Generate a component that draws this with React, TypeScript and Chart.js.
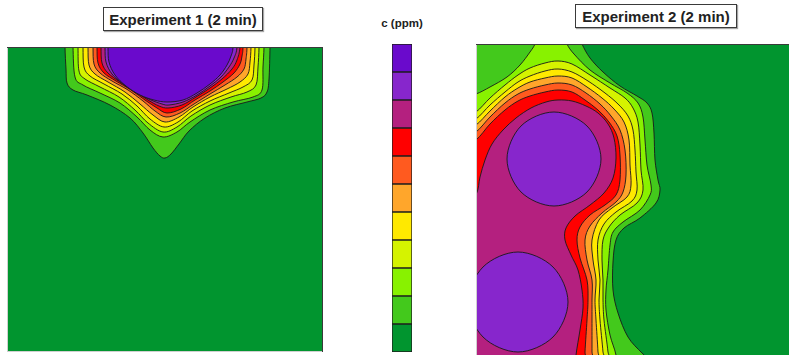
import React, { useEffect, useRef } from 'react';
import { Chart, registerables } from 'chart.js';

Chart.register(...registerables);

// ---------- Data (domain units, origin at the top-left corner of each domain) ----------
const exp1Width = 316;
const exp1Height = 305;
const exp2Width = 316;
const exp2Height = 316;

// Experiment 1 contour boundaries (level k = region where c reaches class k)
const exp1Contour1 = [[58,-25],[58,0],[59,22],[60,36],[66,43],[80,48],[103,58],[123,71],[136,86],[146,101],[153,109],[158,111],[164,107],[172,97],[182,84],[198,71],[218,61],[240,55],[254,51],[260,45],[262,32],[263,0],[263,-25]];
const exp1Contour2 = [[66,-25],[66,0],[68,30],[76,38],[93,46],[113,56],[130,70],[143,83],[156,90],[170,85],[183,75],[203,63],[226,55],[246,50],[255,43],[256,20],[257,0],[257,-25]];
const exp1Contour3 = [[71,-25],[71,0],[72,24],[78,32],[93,40],[112,50],[128,63],[141,76],[156,85],[170,80],[184,69],[203,58],[224,50],[240,45],[249,38],[251,20],[252,0],[252,-25]];
const exp1Contour4 = [[76,-25],[76,0],[77,20],[83,29],[97,37],[115,47],[130,59],[143,72],[157,80],[171,75],[185,64],[203,54],[222,46],[236,40],[245,33],[247,18],[248,0],[248,-25]];
const exp1Contour5 = [[81,-25],[81,0],[82,18],[88,27],[101,35],[118,45],[133,57],[146,68],[158,75],[172,70],[186,60],[203,50],[220,42],[233,35],[241,27],[243,15],[244,0],[244,-25]];
const exp1Contour6 = [[86,-25],[86,0],[87,17],[93,26],[105,34],[121,43],[136,54],[148,64],[159,70],[173,66],[187,57],[203,47],[218,38],[230,30],[237,22],[239,12],[240,0],[240,-25]];
const exp1Contour7 = [[90,-25],[90,0],[91,16],[97,26],[109,34],[124,43],[138,53],[150,61],[160,66],[174,62],[188,53],[203,44],[216,35],[227,26],[233,17],[235,9],[236,0],[236,-25]];
const exp1Contour8 = [[94,-25],[94,0],[95,16],[101,26],[113,35],[127,44],[141,53],[152,59],[161,61],[175,58],[189,50],[203,41],[215,32],[225,22],[230,13],[233,0],[233,-25]];
const exp1Contour9 = [[98,-25],[98,0],[99,15],[105,27],[116,37],[130,46],[144,53],[155,57],[162,58],[176,55],[190,48],[203,39],[214,30],[222,20],[227,11],[230,0],[230,-25]];
const exp1Contour10 = [[101,-25],[101,0],[102,15],[108,28],[119,39],[133,48],[147,53],[160,55],[176,53],[190,46],[203,37],[213,28],[220,18],[224,9],[226,0],[226,-25]];

// Experiment 2 contour boundaries
const exp2Contour1 = [[-15,-15],[100,-15],[106,0],[114,14],[127,28],[144,42],[161,52],[171,59],[176,69],[178,89],[179,116],[182,136],[184,146],[180,159],[164,174],[148,184],[140,196],[137,218],[137,246],[142,269],[152,293],[166,309],[179,321],[190,335],[-15,335]];
const exp2Contour2 = [[-15,54],[0,50],[14,43],[31,33],[44,21],[54,8],[59,0],[64,-14],[86,-14],[91,0],[98,10],[114,26],[134,39],[151,49],[162,59],[167,73],[169,96],[171,121],[175,141],[174,151],[164,166],[147,178],[137,188],[134,201],[132,226],[130,246],[130,266],[134,291],[140,311],[143,335],[-15,335]];
const exp2Contour3 = [[-15,75],[0,68],[14,54],[29,41],[42,31],[54,24],[69,19],[82,17],[96,20],[114,31],[134,44],[149,54],[157,64],[162,78],[164,101],[165,126],[167,146],[161,159],[144,171],[133,183],[127,196],[126,216],[127,236],[127,256],[128,276],[132,308],[134,335],[-15,335]];
const exp2Contour4 = [[-15,82],[0,75],[14,61],[29,48],[42,38],[54,32],[69,27],[82,25],[96,28],[112,37],[129,49],[142,60],[152,72],[157,86],[159,106],[160,128],[161,146],[156,157],[140,168],[128,180],[122,196],[122,216],[124,236],[123,256],[124,276],[127,308],[129,335],[-15,335]];
const exp2Contour5 = [[-15,88],[0,81],[14,67],[29,53],[42,44],[54,38],[69,34],[82,32],[96,34],[111,43],[126,54],[138,65],[148,78],[153,96],[154,121],[155,141],[151,153],[136,164],[123,176],[116,196],[117,216],[120,236],[119,256],[120,276],[122,308],[123,335],[-15,335]];
const exp2Contour6 = [[-15,95],[0,88],[14,73],[29,59],[42,50],[54,45],[69,41],[82,39],[96,41],[110,49],[124,60],[135,72],[144,86],[149,106],[150,131],[147,148],[140,158],[126,169],[114,182],[109,196],[111,216],[116,236],[116,256],[116,276],[116,308],[116,335],[-15,335]];
const exp2Contour7 = [[-15,103],[0,96],[14,80],[29,66],[42,57],[54,52],[69,48],[82,46],[96,48],[109,56],[122,66],[133,78],[141,92],[144,111],[144,136],[140,151],[129,161],[114,171],[104,183],[101,196],[104,214],[111,236],[112,256],[111,276],[109,308],[108,335],[-15,335]];
const exp2Contour8 = [[-15,175],[0,151],[4,133],[9,116],[16,100],[27,86],[40,74],[55,64],[70,58],[82,56],[96,57],[110,62],[122,69],[132,80],[138,94],[140,114],[137,134],[128,149],[114,161],[99,172],[90,184],[89,196],[95,211],[102,226],[106,246],[107,264],[104,286],[100,311],[98,335],[-15,335]];
const exp2Peak1 = [[78,68],[111,82],[125,115],[111,148],[78,162],[45,148],[31,115],[45,82]];
const exp2Peak2 = [[42,208],[77,223],[92,258],[77,293],[42,308],[7,293],[-8,258],[7,223]];

const exp1Contours = [exp1Contour1, exp1Contour2, exp1Contour3, exp1Contour4, exp1Contour5, exp1Contour6, exp1Contour7, exp1Contour8, exp1Contour9, exp1Contour10];
const exp1Levels = [1, 2, 3, 4, 5, 6, 7, 8, 9, 10];
const exp2Contours = [exp2Contour1, exp2Contour2, exp2Contour3, exp2Contour4, exp2Contour5, exp2Contour6, exp2Contour7, exp2Contour8, exp2Peak1, exp2Peak2];
const exp2Levels = [1, 2, 3, 4, 5, 6, 7, 8, 9, 9];

// Colour bar: one cell per concentration class (lowest first)
const colorbarCells = [1, 1, 1, 1, 1, 1, 1, 1, 1, 1, 1];

// ---------- Styles ----------
const levelColors = ['#01952f', '#43c91c', '#88f200', '#d5f300', '#ffe900', '#ffa62b', '#ff5a1f', '#ff0000', '#b4207f', '#8726cc', '#6a0acc'];
const lineColor = 'rgba(25,25,25,0.9)';
const FONT = '"Liberation Sans", Arial, Helvetica, sans-serif';

function traceClosed(ctx: CanvasRenderingContext2D, pts: { x: number; y: number }[]) {
  const n = pts.length;
  ctx.moveTo(pts[0].x, pts[0].y);
  for (let i = 0; i < n; i++) {
    const p0 = pts[(i - 1 + n) % n];
    const p1 = pts[i];
    const p2 = pts[(i + 1) % n];
    const p3 = pts[(i + 2) % n];
    ctx.bezierCurveTo(
      p1.x + (p2.x - p0.x) / 6, p1.y + (p2.y - p0.y) / 6,
      p2.x - (p3.x - p1.x) / 6, p2.y - (p3.y - p1.y) / 6,
      p2.x, p2.y
    );
  }
  ctx.closePath();
}

const contourPlugin = {
  id: 'contourFill',
  beforeDatasetsDraw(chart: any, _args: any, opts: any) {
    const { ctx, chartArea: a } = chart;
    ctx.save();
    ctx.beginPath();
    ctx.rect(a.left, a.top, a.right - a.left, a.bottom - a.top);
    ctx.clip();
    ctx.fillStyle = opts.background;
    ctx.fillRect(a.left, a.top, a.right - a.left, a.bottom - a.top);
    chart.data.datasets.forEach((ds: any, i: number) => {
      const meta = chart.getDatasetMeta(i);
      const pts = meta.data.map((p: any) => ({ x: p.x, y: p.y }));
      if (pts.length < 3) return;
      ctx.beginPath();
      traceClosed(ctx, pts);
      ctx.fillStyle = ds.backgroundColor;
      ctx.fill();
      ctx.lineWidth = ds.borderWidth;
      ctx.strokeStyle = ds.borderColor;
      ctx.lineJoin = 'round';
      ctx.stroke();
    });
    ctx.restore();
  },
  afterDatasetsDraw(chart: any) {
    const { ctx, chartArea: a } = chart;
    ctx.save();
    ctx.lineWidth = 1;
    ctx.strokeStyle = '#d0d0d0';
    ctx.beginPath();
    ctx.moveTo(a.left + 0.5, a.top);
    ctx.lineTo(a.left + 0.5, a.bottom);
    ctx.moveTo(a.left, a.bottom - 0.5);
    ctx.lineTo(a.right, a.bottom - 0.5);
    ctx.stroke();
    ctx.strokeStyle = '#3a3a3a';
    ctx.beginPath();
    ctx.moveTo(a.left, a.top + 0.5);
    ctx.lineTo(a.right, a.top + 0.5);
    ctx.moveTo(a.right - 0.5, a.top);
    ctx.lineTo(a.right - 0.5, a.bottom);
    ctx.stroke();
    ctx.restore();
  },
};

function makeContourChart(canvas: HTMLCanvasElement, contours: number[][][], levels: number[], w: number, h: number) {
  return new Chart(canvas, {
    type: 'scatter',
    data: {
      datasets: contours.map((pts, i) => ({
        label: 'level ' + levels[i],
        data: pts.map(([x, y]) => ({ x, y })),
        backgroundColor: levelColors[levels[i]],
        borderColor: lineColor,
        borderWidth: 1,
        pointRadius: 0,
        pointHoverRadius: 0,
        showLine: false,
      })),
    },
    options: {
      animation: false,
      responsive: false,
      maintainAspectRatio: false,
      events: [],
      layout: { padding: 0, autoPadding: false },
      scales: {
        x: { type: 'linear', min: 0, max: w, display: false },
        y: { type: 'linear', min: 0, max: h, reverse: true, display: false },
      },
      plugins: {
        legend: { display: false },
        tooltip: { enabled: false },
        contourFill: { background: levelColors[0] },
      } as any,
    },
    plugins: [contourPlugin],
  } as any);
}

function makeColorbar(canvas: HTMLCanvasElement) {
  return new Chart(canvas, {
    type: 'bar',
    data: {
      labels: ['c'],
      datasets: colorbarCells.map((v, i) => ({
        label: 'class ' + i,
        data: [v],
        backgroundColor: levelColors[i],
        borderColor: '#1e1e1e',
        borderWidth: 1,
        borderSkipped: false,
        barPercentage: 1,
        categoryPercentage: 1,
      })),
    },
    options: {
      animation: false,
      responsive: false,
      maintainAspectRatio: false,
      events: [],
      layout: { padding: 0, autoPadding: false },
      scales: {
        x: { stacked: true, display: false },
        y: { stacked: true, min: 0, max: colorbarCells.length, display: false },
      },
      plugins: { legend: { display: false }, tooltip: { enabled: false } },
    },
  } as any);
}

const titleBox = (left: number, top: number, width: number): React.CSSProperties => ({
  position: 'absolute',
  left,
  top,
  width,
  height: 24,
  boxSizing: 'border-box',
  border: '1px solid #3a3a3a',
  boxShadow: '1px 1px 1px rgba(0,0,0,0.35)',
  background: '#fff',
  display: 'flex',
  alignItems: 'center',
  justifyContent: 'center',
  fontFamily: FONT,
  fontWeight: 'bold',
  fontSize: 15,
  color: '#222',
  whiteSpace: 'nowrap',
});

export default function App() {
  const ref1 = useRef<HTMLCanvasElement>(null);
  const ref2 = useRef<HTMLCanvasElement>(null);
  const refBar = useRef<HTMLCanvasElement>(null);

  useEffect(() => {
    const charts = [
      makeContourChart(ref1.current as HTMLCanvasElement, exp1Contours, exp1Levels, exp1Width, exp1Height),
      makeContourChart(ref2.current as HTMLCanvasElement, exp2Contours, exp2Levels, exp2Width, exp2Height),
      makeColorbar(refBar.current as HTMLCanvasElement),
    ];
    return () => charts.forEach((c) => c.destroy());
  }, []);

  const cv = (left: number, top: number, width: number, height: number): React.CSSProperties => ({
    position: 'absolute', left, top, width, height, display: 'block',
  });

  return (
    <div style={{ position: 'fixed', left: 0, top: 0, width: 789, height: 355, overflow: 'hidden', background: '#fff' }}>
      <div style={titleBox(103, 7, 160)}>Experiment 1 (2 min)</div>
      <div style={titleBox(575, 4, 162)}>Experiment 2 (2 min)</div>
      <div style={{ position: 'absolute', left: 372, top: 16, width: 60, textAlign: 'center', fontFamily: FONT, fontWeight: 'bold', fontSize: 11.5, lineHeight: '14px', color: '#222' }}>c (ppm)</div>
      <canvas ref={ref1} width={316} height={305} style={cv(7, 47, 316, 305)} />
      <canvas ref={refBar} width={20} height={308} style={cv(392, 44, 20, 308)} />
      <canvas ref={ref2} width={316} height={316} style={cv(476, 44, 316, 316)} />
    </div>
  );
}
